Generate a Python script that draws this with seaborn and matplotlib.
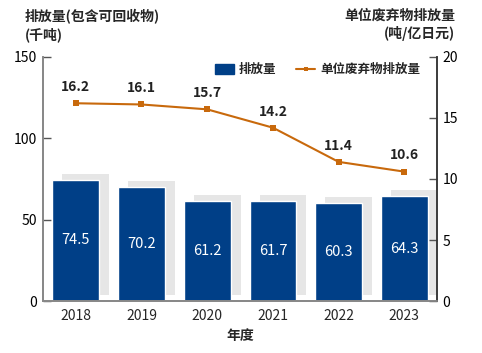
import matplotlib
matplotlib.use('Agg')
import matplotlib.pyplot as plt
import matplotlib.patheffects as pe
from matplotlib.patches import Patch
from matplotlib.lines import Line2D
import seaborn as sns
import numpy as np
import pandas as pd

sns.set_theme(style='white')
plt.rcParams['font.family'] = ['Noto Sans CJK SC', 'DejaVu Sans']

# 数据
years = ['2018', '2019', '2020', '2021', '2022', '2023']
emissions = [74.5, 70.2, 61.2, 61.7, 60.3, 64.3]
unit_rates = [16.2, 16.1, 15.7, 14.2, 11.4, 10.6]

bar_color = '#003f87'
line_color = '#c8690c'

df = pd.DataFrame({'年度': years, '排放量': emissions, '单位': unit_rates})

fig = plt.figure(figsize=(4.82, 3.53), dpi=100)
ax = fig.add_axes([0.089, 0.147, 0.818, 0.692])

sns.barplot(data=df, x='年度', y='排放量', ax=ax, color=bar_color,
            width=0.71, saturation=1)
for p in ax.patches:
    p.set_path_effects([pe.SimplePatchShadow(offset=(7.2, 4.3), shadow_rgbFace='#e6e6e6', alpha=1),
                        pe.Normal()])

for i, v in enumerate(emissions):
    ax.text(i, v / 2, f'{v}', color='white', ha='center', va='center', fontsize=10.5)

ax.set_xlim(-0.5, 5.5)
ax.set_ylim(0, 150)
ax.set_yticks([0, 50, 100, 150])
ax.set_xlabel('年度', fontsize=10, fontweight='bold')
ax.set_ylabel('')
ax.xaxis.labelpad = 4

ax2 = ax.twinx()
sns.lineplot(x=np.arange(len(years)), y=unit_rates, ax=ax2, color=line_color,
             marker='s', markersize=4.5, markeredgewidth=0, linewidth=1.5, legend=False)
for i, v in enumerate(unit_rates):
    ax2.text(i, v + 0.75, f'{v}', ha='center', va='bottom', fontsize=10,
             fontweight='bold', color='#222222')
ax2.set_ylim(0, 20)
ax2.set_yticks([0, 5, 10, 15, 20])

# 坐标轴样式
for a in (ax, ax2):
    a.spines['top'].set_visible(False)
    a.tick_params(axis='y', direction='in', length=6, width=1, color='#555555',
                  labelsize=10, pad=4, labelcolor='black')
for s in ('left', 'bottom', 'right'):
    ax.spines[s].set_color('#888888')
    ax2.spines[s].set_color('#888888')
ax2.spines['right'].set_color('#333333')
ax.tick_params(axis='x', which='major', length=0, labelsize=10, pad=6)
ax.set_xticks(np.arange(-0.5, 6, 1), minor=True)
ax.tick_params(axis='x', which='minor', direction='in', length=5, color='#888888')

# 图例
handles = [Patch(facecolor=bar_color, edgecolor=bar_color),
           Line2D([], [], color=line_color, marker='s', markersize=3.5, markeredgewidth=0, linewidth=1.5)]
ax2.legend(handles, ['排放量', '单位废弃物排放量'], loc='upper right',
           bbox_to_anchor=(0.985, 1.02), ncol=2, frameon=False,
           handlelength=1.5, handleheight=0.8, columnspacing=1.6, handletextpad=0.4,
           prop={'weight': 'bold', 'size': 9})

fig.text(0.052, 0.975, '排放量(包含可回收物)\n(千吨)', ha='left', va='top',
         fontsize=10, fontweight='bold', linespacing=1.3)
fig.text(0.945, 0.975, '单位废弃物排放量\n(吨/亿日元)', ha='right', va='top',
         fontsize=10, fontweight='bold', linespacing=1.3)

fig.savefig('out.png', dpi=100)
